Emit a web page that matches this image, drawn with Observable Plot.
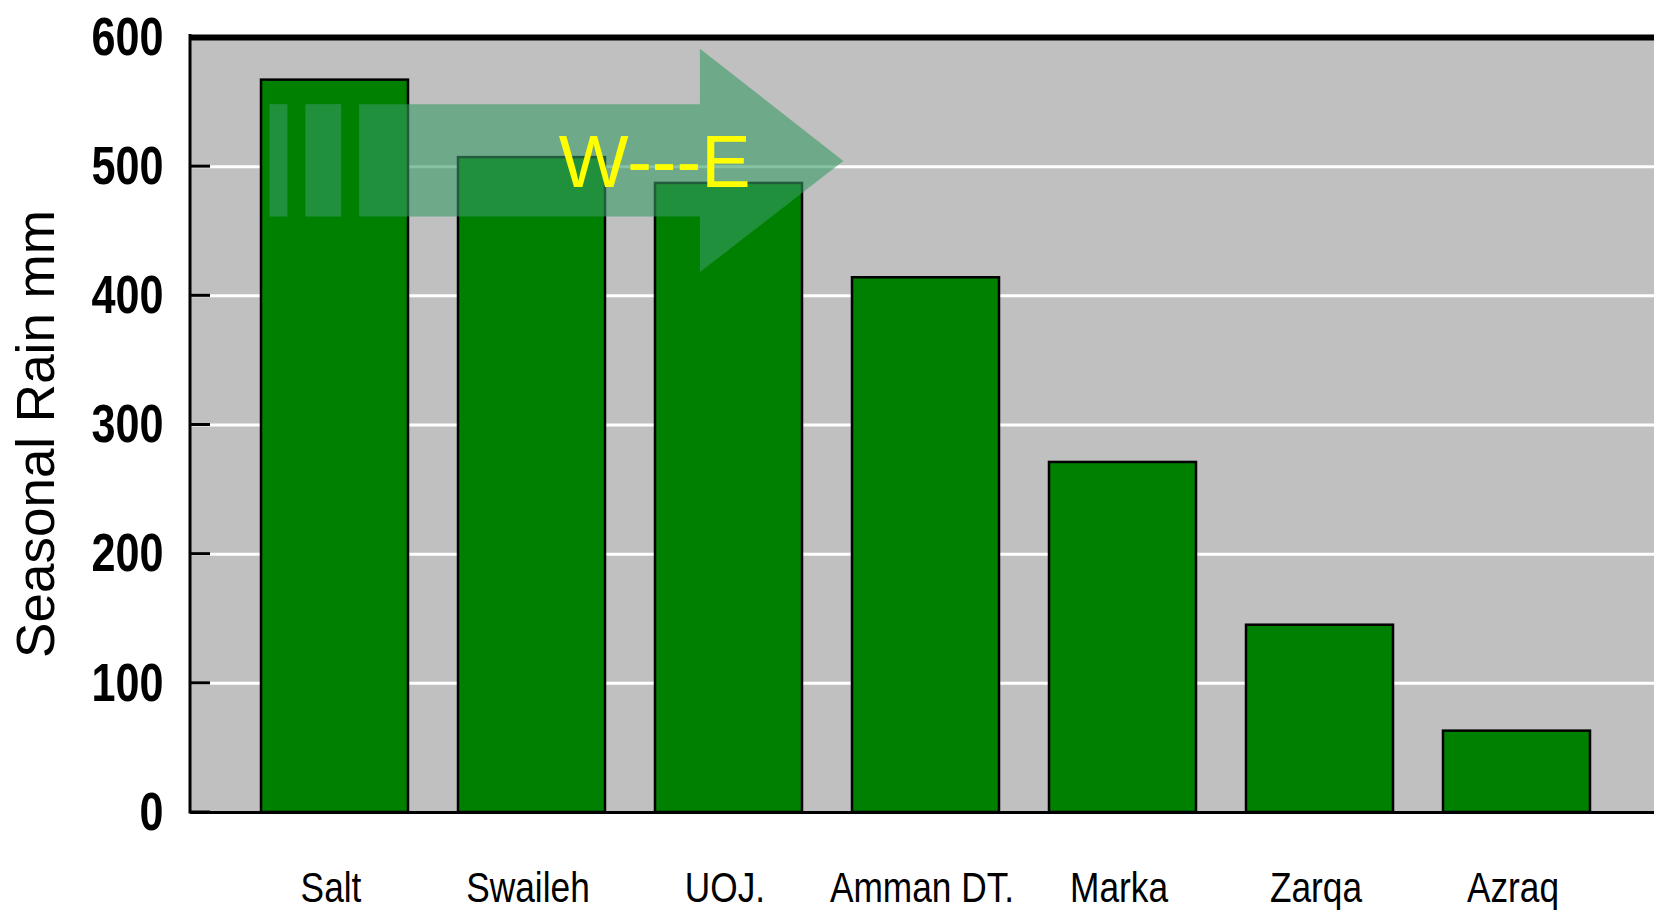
<!DOCTYPE html>
<html>
<head>
<meta charset="utf-8">
<script src="https://cdn.jsdelivr.net/npm/d3@7"></script>
<script src="https://cdn.jsdelivr.net/npm/@observablehq/plot@0.6"></script>
<style>
  html, body { margin: 0; padding: 0; background: #ffffff; }
  #chart svg { display: block; }
</style>
</head>
<body>
<div id="chart"></div>
<script>
// ---- data ----
const stations = ["Salt", "Swaileh", "UOJ.", "Amman DT.", "Marka", "Zarqa", "Azraq"];
const rainfall = [567, 507, 487, 414, 271, 145, 63];
const yTicks = [0, 100, 200, 300, 400, 500, 600];
const gridTicks = [100, 200, 300, 400, 500];
const yLabel = "Seasonal Rain mm";
const arrowText = "W---E";
// arrow annotation: position in band steps from the first bar, value in mm
const arrowU = [0.498, 2.228, 2.228, 2.956, 2.228, 2.228, 0.498];
const arrowV = [548, 548, 591, 504, 418, 461, 461];
const stripeU0 = [0.043, 0.225];
const stripeU1 = [0.134, 0.407];
const stripeV = [461, 548];
const textU = [1.998];
const textV = [504];

const data = stations.map((s, i) => ({station: s, rain: rainfall[i]}));

const W = 1654, H = 910;
const sans = "'Liberation Sans', Arial, sans-serif";

function axisLines(index, scales, values, dims) {
  const y = scales.y;
  const g = d3.create("svg:g");
  const left = dims.marginLeft;
  g.append("line")
    .attr("x1", left).attr("x2", left)
    .attr("y1", y(600) - 3).attr("y2", y(0) + 1.5)
    .attr("stroke", "black").attr("stroke-width", 3);
  for (const t of yTicks) {
    g.append("line")
      .attr("x1", left).attr("x2", left + 20)
      .attr("y1", y(t)).attr("y2", y(t))
      .attr("stroke", "black").attr("stroke-width", 3);
  }
  return g.node();
}

function arrowMark(index, scales) {
  const x = scales.x, y = scales.y;
  const x0 = x(stations[0]);
  const step = x(stations[1]) - x0;
  const px = u => x0 + u * step;
  const g = d3.create("svg:g");
  const fill = "rgb(55,155,100)";
  const pts = arrowU.map((u, i) => [px(u), y(arrowV[i])]);
  g.append("path")
    .attr("d", "M" + pts.map(p => p.join(",")).join("L") + "Z")
    .attr("fill", fill).attr("fill-opacity", 0.6);
  stripeU0.forEach((u0, i) => {
    const u1 = stripeU1[i];
    g.append("rect")
      .attr("x", px(u0)).attr("width", px(u1) - px(u0))
      .attr("y", y(stripeV[1])).attr("height", y(stripeV[0]) - y(stripeV[1]))
      .attr("fill", fill).attr("fill-opacity", 0.6);
  });
  g.append("text")
    .attr("x", px(textU[0])).attr("y", y(textV[0]))
    .attr("dy", "0.358em")
    .attr("text-anchor", "middle")
    .attr("font-family", sans)
    .attr("font-size", 74)
    .attr("fill", "#ffff00")
    .text(arrowText);
  return g.node();
}

const chart = Plot.plot({
  width: W,
  height: H,
  marginLeft: 190,
  marginRight: 0,
  marginTop: 37,
  marginBottom: 98,
  style: {background: "#ffffff", color: "black", fontFamily: sans},
  x: {domain: stations, range: [258.5, 1592], paddingInner: 0.255, paddingOuter: 0, label: null},
  y: {domain: [0, 600], label: null},
  marks: [
    Plot.frame({fill: "#c0c0c0", stroke: null}),
    Plot.gridY(gridTicks, {stroke: "white", strokeOpacity: 1, strokeWidth: 3}),
    Plot.barY(data, {x: "station", y: "rain", fill: "#008000", stroke: "black", strokeWidth: 2.5}),
    Plot.ruleY([0], {stroke: "black", strokeWidth: 3}),
    Plot.ruleY([600], {stroke: "black", strokeWidth: 6}),
    axisLines,
    arrowMark,
    Plot.axisY(yTicks, {tickSize: 0, tickPadding: 27, fontSize: 54, fontWeight: "bold", fontFamily: sans, label: null}),
    Plot.axisX({tickSize: 0, tickPadding: 59, dx: -4, fontSize: 43, fontFamily: sans, label: null}),
    Plot.text([yLabel], {frameAnchor: "left", textAnchor: "middle", rotate: -90, lineAnchor: "bottom", dx: -137, dy: 9, fontSize: 53, fontFamily: sans, fill: "black"})
  ]
});
document.getElementById("chart").appendChild(chart);

// condense the axis tick labels (the reference uses a narrow face)
function condense(selector, factor) {
  chart.querySelectorAll(selector).forEach(t => {
    const len = t.getComputedTextLength();
    if (len > 0) {
      t.setAttribute("textLength", (len * factor).toFixed(1));
      t.setAttribute("lengthAdjust", "spacingAndGlyphs");
    }
  });
}
condense('g[aria-label="x-axis tick label"] text', 0.82);
condense('g[aria-label="y-axis tick label"] text', 0.8);
</script>
</body>
</html>
